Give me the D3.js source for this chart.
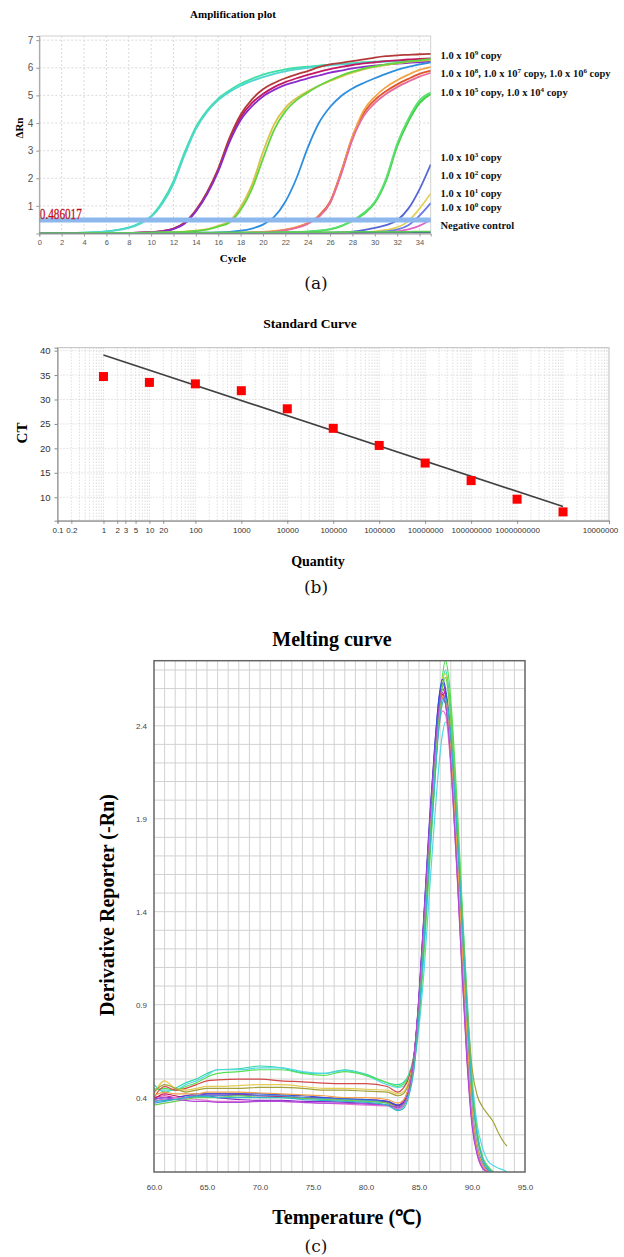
<!DOCTYPE html>
<html>
<head>
<meta charset="utf-8">
<script src="https://cdn.jsdelivr.net/npm/d3@7"></script>
<style>
  body { margin: 0; background: #fff; }
  svg { display: block; }
</style>
</head>
<body>
<svg id="chart" width="624" height="1257"></svg>
<script>
// ================= data =================

// (a) amplification plot
const cycles = [0,1,2,3,4,5,6,7,8,9,10,11,12,13,14,15,16,17,18,19,20,21,22,23,24,25,26,27,28,29,30,31,32,33,34,35];
const ampColors = ['#3ddfa5','#4fd6cf','#c41862','#b43a3a','#8a2ccc','#d8c24a','#62d43e','#2e8fe0',
                   '#e0552c','#f2a444','#e86a9a','#3fd03f','#5ae070','#5566d6','#e2d25e','#6a7ae8','#e064c4','#3a3aa0','#5cc85c'];
const ampValues = [
  [0,0,0.01,0.02,0.03,0.05,0.08,0.13,0.22,0.38,0.63,1.15,1.9,2.95,3.85,4.45,4.88,5.18,5.42,5.6,5.75,5.86,5.94,6.0,6.04,6.08,6.11,6.14,6.17,6.2,6.22,6.24,6.26,6.28,6.3,6.32],
  [0,0,0.01,0.02,0.03,0.05,0.08,0.12,0.2,0.35,0.6,1.08,1.8,2.85,3.78,4.4,4.83,5.12,5.35,5.52,5.66,5.78,5.87,5.94,6.0,6.05,6.09,6.12,6.15,6.18,6.2,6.22,6.24,6.25,6.27,6.28],
  [0,0,0,0,0,0,0.01,0.01,0.02,0.03,0.05,0.09,0.18,0.38,0.82,1.45,2.3,3.4,4.2,4.72,5.05,5.3,5.48,5.62,5.74,5.85,5.95,6.03,6.1,6.16,6.2,6.24,6.27,6.3,6.32,6.34],
  [0,0,0,0,0,0,0.01,0.01,0.02,0.03,0.05,0.09,0.18,0.4,0.85,1.5,2.35,3.45,4.3,4.85,5.22,5.45,5.62,5.76,5.88,6.02,6.12,6.18,6.24,6.3,6.37,6.42,6.45,6.47,6.49,6.5],
  [0,0,0,0,0,0,0.01,0.01,0.02,0.03,0.05,0.08,0.16,0.36,0.8,1.42,2.25,3.3,4.1,4.6,4.96,5.2,5.38,5.5,5.62,5.72,5.82,5.9,5.98,6.03,6.08,6.11,6.15,6.18,6.2,6.22],
  [0,0,0,0,0,0,0,0.01,0.01,0.02,0.03,0.04,0.05,0.07,0.1,0.16,0.28,0.45,0.95,1.75,2.95,3.95,4.55,4.9,5.15,5.35,5.52,5.68,5.82,5.94,6.03,6.1,6.16,6.21,6.25,6.28],
  [0,0,0,0,0,0,0,0.01,0.01,0.02,0.03,0.04,0.05,0.06,0.09,0.14,0.25,0.4,0.85,1.6,2.7,3.75,4.42,4.83,5.1,5.35,5.55,5.72,5.86,5.97,6.05,6.12,6.18,6.23,6.27,6.32],
  [0,0,0,0,0,0,0,0,0,0.01,0.01,0.01,0.02,0.02,0.03,0.03,0.04,0.06,0.1,0.18,0.32,0.6,1.15,2.0,3.1,4.0,4.58,4.98,5.25,5.45,5.62,5.78,5.92,6.03,6.12,6.2],
  [0,0,0,0,0,0,0,0,0,0,0,0.01,0.01,0.01,0.01,0.02,0.02,0.02,0.02,0.03,0.05,0.08,0.13,0.22,0.38,0.65,1.15,2.25,3.5,4.35,4.83,5.15,5.4,5.6,5.78,5.9],
  [0,0,0,0,0,0,0,0,0,0,0,0.01,0.01,0.01,0.01,0.02,0.02,0.02,0.03,0.04,0.06,0.09,0.14,0.23,0.38,0.62,1.1,2.2,3.5,4.45,4.95,5.3,5.55,5.75,5.92,6.02],
  [0,0,0,0,0,0,0,0,0,0,0,0,0.01,0.01,0.01,0.01,0.02,0.02,0.02,0.03,0.04,0.07,0.12,0.2,0.35,0.6,1.1,2.15,3.4,4.25,4.72,5.05,5.3,5.5,5.68,5.82],
  [0,0,0,0,0,0,0,0,0,0,0,0,0,0,0,0.01,0.01,0.01,0.01,0.02,0.02,0.03,0.04,0.05,0.07,0.1,0.15,0.27,0.45,0.7,1.1,1.9,3.15,4.05,4.72,5.05],
  [0,0,0,0,0,0,0,0,0,0,0,0,0,0,0,0.01,0.01,0.01,0.01,0.02,0.02,0.03,0.04,0.05,0.07,0.1,0.16,0.28,0.47,0.74,1.15,1.98,3.25,4.15,4.82,5.1],
  [0,0,0,0,0,0,0,0,0,0,0,0,0,0,0,0,0,0,0,0,0,0.01,0.01,0.01,0.01,0.01,0.02,0.04,0.07,0.12,0.2,0.3,0.48,0.9,1.6,2.5],
  [0,0,0,0,0,0,0,0,0,0,0,0,0,0,0,0,0,0,0,0,0,0,0,0,0,0.01,0.01,0.02,0.03,0.05,0.08,0.13,0.22,0.45,0.9,1.45],
  [0,0,0,0,0,0,0,0,0,0,0,0,0,0,0,0,0,0,0,0,0,0,0,0,0,0,0.01,0.01,0.02,0.03,0.05,0.08,0.14,0.3,0.65,1.1],
  [0,0,0,0,0,0,0,0,0,0,0,0,0,0,0,0,0,0,0,0,0,0,0,0,0,0,0,0.01,0.01,0.02,0.03,0.05,0.08,0.15,0.28,0.5],
  [0,0,0,0,0,0,0,0,0,0,0,0,0,0,0,0,0,0,0,0,0,0,0,0,0.01,0.01,0.01,0.02,0.02,0.02,0.03,0.03,0.03,0.04,0.04,0.04],
  [0.01,0.01,0.01,0.01,0.02,0.02,0.02,0.02,0.02,0.02,0.03,0.03,0.03,0.03,0.03,0.03,0.04,0.04,0.04,0.04,0.04,0.04,0.05,0.05,0.05,0.05,0.05,0.05,0.06,0.06,0.06,0.06,0.06,0.06,0.07,0.07]
];
const threshold = 0.486017;
const ampXTicks = [0,2,4,6,8,10,12,14,16,18,20,22,24,26,28,30,32,34];
const ampYTicks = [1,2,3,4,5,6,7];
// "^n" marks a superscript digit
const ampLegend = ['1.0 x 10^9 copy', '1.0 x 10^8, 1.0 x 10^7 copy, 1.0 x 10^6 copy', '1.0 x 10^5 copy, 1.0 x 10^4 copy',
                   '1.0 x 10^3 copy', '1.0 x 10^2 copy', '1.0 x 10^1 copy', '1.0 x 10^0 copy', 'Negative control'];
const ampLegendY = [58.5, 76.5, 95.5, 160.5, 178.5, 196.5, 210.5, 228.5];

// (b) standard curve
const quantities = [1, 10, 100, 1000, 1e4, 1e5, 1e6, 1e7, 1e8, 1e9, 1e10];
const ctValues = [34.7, 33.5, 33.2, 31.8, 28.1, 24.1, 20.6, 17.0, 13.4, 9.6, 7.0];
const fitQty = [1, 1e10];
const fitCt = [39.1, 8.1];
const stdXTicks = [0.1, 0.2, 1, 2, 3, 5, 10, 20, 100, 1000, 1e4, 1e5, 1e6, 1e7, 1e8, 1e9, 1e11];
const stdXLabels = ['0.1','0.2','1','2','3','5','10','20','100','1000','10000','100000','1000000',
                    '10000000','100000000','1000000000','10000000'];
const stdYTicks = [10, 15, 20, 25, 30, 35, 40];

// (c) melting curve
const meltTemps = [60,61,62,63,64,65,66,68,70,72,74,76,78,80,82,83,83.5,84,84.5,85,85.5,86,86.5,86.9,87.2,87.5,87.8,88.2,88.6,89,89.5,90,90.5,91,91.5,92,92.5,93,93.3];
const meltColors = ['#2fd6a6','#52d8e8','#55e055','#d44a48','#e4cc52','#a4a238','#e0209c','#c81858',
                    '#8a2ad0','#2c50e0','#3aa0e8','#e878d0','#f0a048','#6cd04c','#b048d8','#30b8c8'];
const meltValues = [
  [0.47,0.43,0.45,0.48,0.50,0.53,0.55,0.555,0.57,0.56,0.535,0.53,0.55,0.525,0.48,0.47,0.48,0.52,0.62,0.85,1.25,1.7,2.12,2.45,2.62,2.7,2.6,2.32,1.92,1.47,0.92,0.46,0.2,0.08,0.03,0.0,null,null,null],
  [0.45,0.44,0.44,0.47,0.49,0.52,0.55,0.55,0.56,0.56,0.54,0.53,0.545,0.52,0.47,0.455,0.46,0.5,0.58,0.78,1.1,1.52,1.92,2.2,2.35,2.42,2.4,2.22,1.88,1.48,0.98,0.52,0.25,0.13,0.06,0.035,0.02,0.01,0.0],
  [0.44,0.45,0.44,0.46,0.48,0.51,0.53,0.54,0.55,0.55,0.53,0.52,0.54,0.52,0.48,0.46,0.47,0.51,0.6,0.82,1.2,1.65,2.1,2.46,2.66,2.75,2.66,2.38,1.98,1.52,0.96,0.48,0.21,0.08,0.03,0.0,null,null,null],
  [0.40,0.46,0.44,0.45,0.47,0.49,0.495,0.5,0.50,0.49,0.485,0.478,0.475,0.475,0.46,0.43,0.45,0.5,0.62,0.92,1.36,1.8,2.2,2.45,2.55,2.53,2.4,2.08,1.68,1.25,0.72,0.32,0.13,0.05,0.01,0.0,null,null,null],
  [0.42,0.49,0.45,0.44,0.45,0.46,0.46,0.465,0.47,0.47,0.46,0.45,0.45,0.445,0.44,0.42,0.43,0.48,0.6,0.88,1.3,1.75,2.18,2.5,2.65,2.68,2.55,2.25,1.85,1.4,0.85,0.42,0.18,0.07,0.02,0.0,null,null,null],
  [0.43,0.47,0.45,0.43,0.44,0.45,0.45,0.45,0.455,0.455,0.45,0.44,0.44,0.435,0.43,0.41,0.42,0.47,0.58,0.86,1.28,1.72,2.15,2.44,2.56,2.58,2.48,2.2,1.82,1.42,0.92,0.56,0.41,0.35,0.31,0.27,0.21,0.16,0.14],
  [0.40,0.41,0.40,0.41,0.41,0.42,0.42,0.42,0.41,0.41,0.40,0.40,0.39,0.39,0.38,0.36,0.38,0.45,0.6,0.92,1.38,1.85,2.25,2.5,2.6,2.56,2.4,2.08,1.68,1.22,0.68,0.29,0.11,0.03,0.0,null,null,null,null],
  [0.39,0.42,0.41,0.40,0.41,0.41,0.41,0.415,0.41,0.405,0.40,0.395,0.39,0.385,0.375,0.355,0.37,0.44,0.6,0.92,1.38,1.84,2.24,2.48,2.57,2.52,2.36,2.03,1.62,1.18,0.65,0.27,0.1,0.03,0.0,null,null,null,null],
  [0.38,0.39,0.39,0.40,0.405,0.41,0.40,0.39,0.385,0.385,0.38,0.38,0.375,0.37,0.36,0.345,0.36,0.43,0.6,0.95,1.42,1.9,2.3,2.55,2.63,2.58,2.42,2.1,1.68,1.22,0.68,0.28,0.1,0.03,0.0,null,null,null,null],
  [0.39,0.40,0.40,0.41,0.42,0.42,0.42,0.42,0.42,0.415,0.41,0.40,0.395,0.39,0.38,0.36,0.37,0.44,0.6,0.93,1.4,1.88,2.3,2.56,2.65,2.6,2.45,2.14,1.74,1.28,0.74,0.32,0.12,0.04,0.0,null,null,null,null],
  [0.37,0.38,0.39,0.40,0.41,0.41,0.41,0.41,0.41,0.41,0.40,0.395,0.39,0.385,0.37,0.335,0.35,0.42,0.56,0.88,1.32,1.78,2.18,2.44,2.54,2.52,2.4,2.12,1.75,1.32,0.8,0.36,0.14,0.05,0.01,0.0,null,null,null],
  [0.38,0.39,0.40,0.395,0.39,0.385,0.38,0.38,0.38,0.38,0.375,0.37,0.365,0.36,0.355,0.34,0.355,0.42,0.58,0.9,1.34,1.78,2.16,2.4,2.48,2.46,2.32,2.0,1.6,1.16,0.64,0.27,0.1,0.03,0.0,null,null,null,null],
  [0.41,0.43,0.42,0.42,0.42,0.43,0.43,0.43,0.425,0.42,0.415,0.41,0.40,0.40,0.39,0.37,0.385,0.45,0.6,0.9,1.34,1.8,2.2,2.46,2.56,2.54,2.4,2.1,1.72,1.28,0.76,0.34,0.13,0.04,0.0,null,null,null,null],
  [0.36,0.37,0.38,0.39,0.40,0.40,0.40,0.41,0.40,0.40,0.395,0.39,0.385,0.38,0.37,0.35,0.36,0.42,0.56,0.86,1.3,1.76,2.18,2.46,2.6,2.66,2.56,2.28,1.9,1.46,0.92,0.46,0.2,0.07,0.02,0.0,null,null,null],
  [0.39,0.40,0.39,0.385,0.38,0.38,0.375,0.375,0.38,0.38,0.375,0.37,0.37,0.365,0.36,0.35,0.365,0.43,0.6,0.94,1.4,1.86,2.26,2.5,2.58,2.52,2.36,2.02,1.6,1.14,0.62,0.25,0.09,0.02,0.0,null,null,null,null],
  [0.38,0.385,0.39,0.40,0.405,0.405,0.40,0.40,0.40,0.40,0.39,0.385,0.38,0.375,0.36,0.33,0.34,0.4,0.54,0.84,1.26,1.72,2.12,2.4,2.52,2.55,2.46,2.2,1.84,1.42,0.9,0.44,0.19,0.07,0.02,0.0,null,null,null]
];
const meltXTicks = [60, 65, 70, 75, 80, 85, 90, 95];
const meltYTicks = [0.4, 0.9, 1.4, 1.9, 2.4];

// ================= drawing =================
const svg = d3.select('#chart');
const serif = '"Liberation Serif","Times New Roman",serif';
const sans = '"Liberation Sans",Arial,sans-serif';
const defs = svg.append('defs');

function clip(id, x0, x1, y0, y1) {
  defs.append('clipPath').attr('id', id)
    .append('rect').attr('x', x0).attr('y', y0).attr('width', x1 - x0).attr('height', y1 - y0);
  return 'url(#' + id + ')';
}

function panelLabel(text, y) {
  svg.append('text').attr('x', 316).attr('y', y).attr('text-anchor', 'middle')
    .attr('font-family', '"DejaVu Serif",serif').attr('font-size', '17px').attr('fill', '#111')
    .text(text);
}

// ---------- (a) amplification plot ----------
const ampX = d3.scaleLinear().domain([0, 35]).range([39.3, 430.7]);
const ampY = d3.scaleLinear().domain([0, 7.15]).range([233.5, 36]);
const gA = svg.append('g');

gA.append('rect')
  .attr('x', ampX(0)).attr('y', ampY(7.15))
  .attr('width', ampX(35) - ampX(0)).attr('height', ampY(0) - ampY(7.15))
  .attr('fill', 'none').attr('stroke', '#d0d0d0');

gA.selectAll('line.vg').data(ampXTicks.filter(d => d > 0)).join('line')
  .attr('class', 'vg')
  .attr('x1', d => ampX(d)).attr('x2', d => ampX(d))
  .attr('y1', ampY(7.15)).attr('y2', ampY(0))
  .attr('stroke', '#dadada').attr('stroke-dasharray', '2,2');
gA.selectAll('line.hg').data(ampYTicks).join('line')
  .attr('class', 'hg')
  .attr('x1', ampX(0)).attr('x2', ampX(35))
  .attr('y1', d => ampY(d)).attr('y2', d => ampY(d))
  .attr('stroke', '#dadada').attr('stroke-dasharray', '2,2');

const ampClip = clip('clipA', ampX(0), ampX(35), ampY(7.15), ampY(0));
const ampLine = d3.line()
  .x((d, i) => ampX(cycles[i]))
  .y(d => ampY(d))
  .curve(d3.curveMonotoneX);

gA.append('g').attr('clip-path', ampClip)
  .selectAll('path').data(ampValues).join('path')
  .attr('d', d => ampLine(d))
  .attr('fill', 'none')
  .attr('stroke', (d, i) => ampColors[i])
  .attr('stroke-width', 1.8);

// threshold
gA.append('line')
  .attr('x1', ampX(0)).attr('x2', ampX(35))
  .attr('y1', ampY(threshold)).attr('y2', ampY(threshold))
  .attr('stroke', '#8cb8ee').attr('stroke-width', 5);
gA.append('text')
  .attr('x', ampX(0) + 0.5).attr('y', ampY(threshold) - 1.5)
  .attr('font-family', serif).attr('font-size', '15px').attr('fill', '#c00d18')
  .attr('stroke', '#c00d18').attr('stroke-width', 0.3)
  .attr('textLength', 42).attr('lengthAdjust', 'spacingAndGlyphs')
  .text(threshold.toFixed(6));

// axes
const axA_x = gA.append('g').attr('transform', `translate(0,${ampY(0)})`)
  .call(d3.axisBottom(ampX).tickValues(ampXTicks).tickSize(3).tickPadding(3));
const axA_y = gA.append('g').attr('transform', `translate(${ampX(0)},0)`)
  .call(d3.axisLeft(ampY).tickValues(ampYTicks).tickSize(3).tickPadding(3));
[axA_x, axA_y].forEach(ax => {
  ax.select('.domain').attr('stroke', '#999');
  ax.selectAll('.tick line').attr('stroke', '#999');
  ax.selectAll('.tick text').attr('fill', '#555').attr('font-family', sans);
});
axA_x.selectAll('.tick text').attr('font-size', '7.5px');
axA_y.selectAll('.tick text').attr('font-size', '10px');

gA.append('text').attr('x', 233).attr('y', 18).attr('text-anchor', 'middle')
  .attr('font-family', serif).attr('font-weight', 'bold').attr('font-size', '11px')
  .text('Amplification plot');
gA.append('text').attr('x', 233).attr('y', 262).attr('text-anchor', 'middle')
  .attr('font-family', serif).attr('font-weight', 'bold').attr('font-size', '11px')
  .text('Cycle');
gA.append('text').attr('transform', 'translate(23,128) rotate(-90)').attr('text-anchor', 'middle')
  .attr('font-family', serif).attr('font-weight', 'bold').attr('font-size', '11px')
  .text('ΔRn');

// legend with superscripts
ampLegend.forEach((label, i) => {
  const t = gA.append('text').attr('x', 440.5).attr('y', ampLegendY[i])
    .attr('font-family', serif).attr('font-weight', 'bold').attr('font-size', '10.5px').attr('fill', '#111');
  let shift = 0;
  label.split(/(\^\d)/).forEach(part => {
    if (!part) return;
    if (part[0] === '^') {
      t.append('tspan').attr('font-size', '7px').attr('dy', -4 - shift).text(part.slice(1));
      shift = -4;
    } else {
      t.append('tspan').attr('dy', -shift).text(part);
      shift = 0;
    }
  });
});

panelLabel('(a)', 289);

// ---------- (b) standard curve ----------
const stdX = d3.scaleLog().domain([0.1, 1e11]).range([57.5, 609]);
const stdY = d3.scaleLinear().domain([5.2, 40.6]).range([520.7, 347.7]);
const gB = svg.append('g');

const minorLog = [];
for (let k = -1; k <= 10; k++) for (let m = 1; m <= 9; m++) minorLog.push(m * Math.pow(10, k));
gB.selectAll('line.vg').data(minorLog.filter(d => d > 0.1)).join('line')
  .attr('class', 'vg')
  .attr('x1', d => stdX(d)).attr('x2', d => stdX(d))
  .attr('y1', stdY(40.6)).attr('y2', stdY(5.2))
  .attr('stroke', '#cfcfcf').attr('stroke-dasharray', '1,2');
gB.selectAll('line.hg').data(stdYTicks).join('line')
  .attr('class', 'hg')
  .attr('x1', stdX(0.1)).attr('x2', stdX(1e11))
  .attr('y1', d => stdY(d)).attr('y2', d => stdY(d))
  .attr('stroke', '#cfcfcf').attr('stroke-dasharray', '1,2');
gB.append('rect')
  .attr('x', stdX(0.1)).attr('y', stdY(40.6))
  .attr('width', stdX(1e11) - stdX(0.1)).attr('height', stdY(5.2) - stdY(40.6))
  .attr('fill', 'none').attr('stroke', '#bdbdbd');

const axB_x = gB.append('g').attr('transform', `translate(0,${stdY(5.2)})`)
  .call(d3.axisBottom(stdX).tickValues(stdXTicks).tickSize(3).tickPadding(4)
    .tickFormat((d, i) => stdXLabels[i]));
const axB_y = gB.append('g').attr('transform', `translate(${stdX(0.1)},0)`)
  .call(d3.axisLeft(stdY).tickValues(stdYTicks).tickSize(3).tickPadding(4));
[axB_x, axB_y].forEach(ax => {
  ax.select('.domain').attr('stroke', '#888');
  ax.selectAll('.tick line').attr('stroke', '#888');
  ax.selectAll('.tick text').attr('fill', '#333').attr('font-family', sans);
});
axB_x.selectAll('.tick text').attr('font-size', '8px');
axB_x.selectAll('.tick text').filter((d, i) => i === stdXTicks.length - 1).attr('dx', -9);
axB_y.selectAll('.tick text').attr('font-size', '9.5px');

gB.append('path')
  .attr('d', d3.line().x((d, i) => stdX(d)).y((d, i) => stdY(fitCt[i]))(fitQty))
  .attr('fill', 'none').attr('stroke', '#404040').attr('stroke-width', 1.6);

gB.selectAll('rect.pt').data(quantities).join('rect')
  .attr('class', 'pt')
  .attr('x', d => stdX(d) - 4.5)
  .attr('y', (d, i) => stdY(ctValues[i]) - 4.5)
  .attr('width', 9).attr('height', 9)
  .attr('fill', '#ff0000');

gB.append('text').attr('x', 310).attr('y', 328).attr('text-anchor', 'middle')
  .attr('font-family', serif).attr('font-weight', 'bold').attr('font-size', '13.5px')
  .text('Standard Curve');
gB.append('text').attr('x', 318).attr('y', 566).attr('text-anchor', 'middle')
  .attr('font-family', serif).attr('font-weight', 'bold').attr('font-size', '14px')
  .text('Quantity');
gB.append('text').attr('transform', 'translate(27,433) rotate(-90)').attr('text-anchor', 'middle')
  .attr('font-family', serif).attr('font-weight', 'bold').attr('font-size', '15px')
  .text('CT');

panelLabel('(b)', 593);

// ---------- (c) melting curve ----------
const meltX = d3.scaleLinear().domain([60, 95]).range([154, 525]);
const meltY = d3.scaleLinear().domain([0, 2.75]).range([1172, 660.7]);
const gC = svg.append('g');

const degGrid = [61,62,63,64,65,66,67,68,69,70,71,72,73,74,75,76,77,78,79,80,81,82,83,84,85,86,87,88,89,90,91,92,93,94];
const rnGrid = [0.1,0.2,0.3,0.4,0.5,0.6,0.7,0.8,0.9,1.0,1.1,1.2,1.3,1.4,1.5,1.6,1.7,1.8,1.9,2.0,2.1,2.2,2.3,2.4,2.5,2.6,2.7];
gC.selectAll('line.vg').data(degGrid).join('line')
  .attr('class', 'vg')
  .attr('x1', d => meltX(d)).attr('x2', d => meltX(d))
  .attr('y1', meltY(2.75)).attr('y2', meltY(0))
  .attr('stroke', '#d2d2d2').attr('stroke-width', 1);
gC.selectAll('line.hg').data(rnGrid).join('line')
  .attr('class', 'hg')
  .attr('x1', meltX(60)).attr('x2', meltX(95))
  .attr('y1', d => meltY(d)).attr('y2', d => meltY(d))
  .attr('stroke', '#d2d2d2').attr('stroke-width', 1);

const meltClip = clip('clipC', meltX(60), meltX(95), meltY(2.75), meltY(0));
const meltLine = d3.line()
  .defined(d => d !== null)
  .x((d, i) => meltX(meltTemps[i]))
  .y(d => meltY(d))
  .curve(d3.curveMonotoneX);
gC.append('g').attr('clip-path', meltClip)
  .selectAll('path').data(meltValues).join('path')
  .attr('d', d => meltLine(d))
  .attr('fill', 'none')
  .attr('stroke', (d, i) => meltColors[i])
  .attr('stroke-width', 1.2);

gC.append('rect')
  .attr('x', meltX(60)).attr('y', meltY(2.75))
  .attr('width', meltX(95) - meltX(60)).attr('height', meltY(0) - meltY(2.75))
  .attr('fill', 'none').attr('stroke', '#666').attr('stroke-width', 1.5);

const axC_x = gC.append('g').attr('transform', `translate(0,${meltY(0)})`)
  .call(d3.axisBottom(meltX).tickValues(meltXTicks).tickSize(0).tickPadding(12).tickFormat(d3.format('.1f')));
const axC_y = gC.append('g').attr('transform', `translate(${meltX(60)},0)`)
  .call(d3.axisLeft(meltY).tickValues(meltYTicks).tickSize(0).tickPadding(7).tickFormat(d3.format('.1f')));
[axC_x, axC_y].forEach(ax => {
  ax.select('.domain').remove();
  ax.selectAll('.tick text').attr('fill', '#444').attr('font-family', sans).attr('font-size', '8px');
});

gC.append('text').attr('x', 332).attr('y', 646).attr('text-anchor', 'middle')
  .attr('font-family', serif).attr('font-weight', 'bold').attr('font-size', '20px')
  .text('Melting curve');
gC.append('text').attr('x', 347).attr('y', 1224).attr('text-anchor', 'middle')
  .attr('font-family', serif).attr('font-weight', 'bold').attr('font-size', '20px')
  .text('Temperature (℃)');
gC.append('text').attr('transform', 'translate(114,905) rotate(-90)').attr('text-anchor', 'middle')
  .attr('font-family', serif).attr('font-weight', 'bold').attr('font-size', '20px')
  .text('Derivative Reporter (-Rn)');

panelLabel('(c)', 1252);
</script>
</body>
</html>
